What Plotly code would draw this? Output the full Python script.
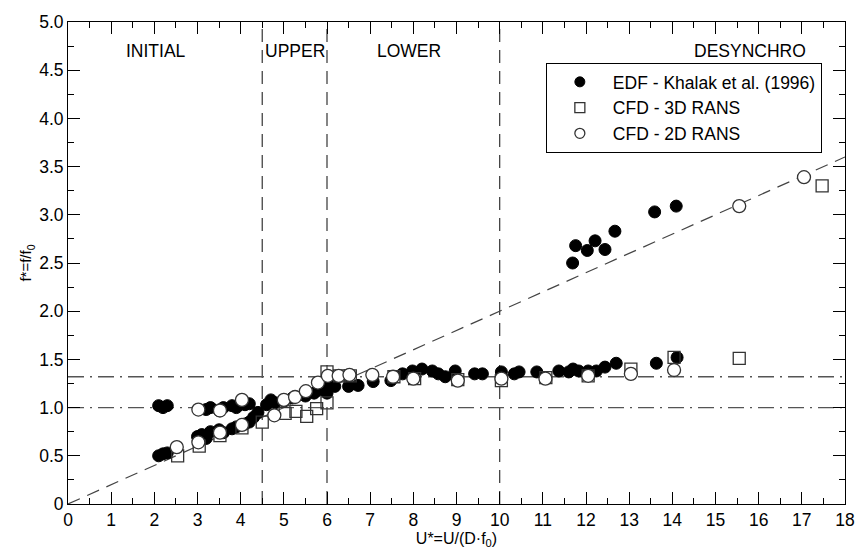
import plotly.graph_objects as go

# ---- data ----
edf_x = [2.1, 2.2, 2.3, 3.2, 3.3, 3.5, 3.6, 3.8, 3.9, 4.0, 4.1, 4.2,
         2.1, 2.2, 2.3, 3.0, 3.1, 3.2, 3.3, 3.5, 3.6, 3.8, 3.9, 4.1, 4.2, 4.3, 4.4,
         4.6, 4.7, 4.8, 5.0, 5.2, 5.5, 5.7, 5.8, 5.9, 6.0, 6.1,
         6.18, 6.5, 6.72, 7.07, 7.48, 7.75, 7.98, 8.2, 8.44, 8.58, 8.74, 8.97, 9.42, 9.6,
         10.04, 10.34, 10.45, 10.86, 11.37, 11.6, 11.7, 11.83, 12.05, 12.24, 12.44, 12.7,
         13.63, 14.11,
         11.69, 11.76, 12.03, 12.21, 12.44, 12.67, 13.59, 14.09]
edf_y = [1.02, 1.0, 1.02, 0.98, 1.0, 0.97, 1.0, 1.02, 1.0, 1.05, 1.03, 1.04,
         0.5, 0.52, 0.53, 0.7, 0.72, 0.68, 0.75, 0.77, 0.74, 0.78, 0.8, 0.83, 0.85, 0.9, 0.95,
         1.03, 1.08, 1.05, 1.07, 1.1, 1.12, 1.15, 1.18, 1.2, 1.15, 1.25,
         1.22, 1.22, 1.23, 1.27, 1.28, 1.35, 1.38, 1.4, 1.38, 1.35, 1.32, 1.38, 1.35, 1.35,
         1.37, 1.35, 1.37, 1.37, 1.38, 1.37, 1.4, 1.38, 1.38, 1.38, 1.42, 1.46,
         1.46, 1.52,
         2.5, 2.68, 2.63, 2.73, 2.64, 2.83, 3.03, 3.09]

rans3d_x = [2.54, 3.04, 3.52, 4.03, 4.5, 5.03, 5.28, 5.53, 5.76, 6.0, 6.0,
            6.29, 6.54, 7.55, 8.03, 9.03, 10.04, 11.07, 12.05, 13.04, 14.04, 15.55, 17.47]
rans3d_y = [0.5, 0.6, 0.71, 0.79, 0.85, 0.94, 0.96, 0.91, 0.99, 1.05, 1.37,
            1.33, 1.33, 1.32, 1.3, 1.29, 1.28, 1.31, 1.33, 1.4, 1.52, 1.51, 3.3]

rans2d_x = [2.52, 3.02, 3.02, 3.52, 3.52, 4.03, 4.03, 4.78, 5.0, 5.26, 5.51, 5.79,
            6.02, 6.27, 6.52, 7.05, 7.53, 8.0, 9.03, 10.04, 11.06, 12.05, 13.04, 14.04,
            15.55, 17.05]
rans2d_y = [0.59, 0.64, 0.98, 0.74, 0.97, 1.08, 0.82, 0.92, 1.08, 1.11, 1.17, 1.26,
            1.33, 1.33, 1.34, 1.34, 1.32, 1.3, 1.28, 1.3, 1.3, 1.33, 1.35, 1.39,
            3.09, 3.39]

series_names = ["EDF - Khalak et al. (1996)", "CFD - 3D RANS", "CFD - 2D RANS"]

strouhal = 0.2
region_bounds = [4.5, 6.0, 10.0]
ref_levels = [1.0, 1.32]
region_names = ["INITIAL", "UPPER", "LOWER", "DESYNCHRO"]
region_label_x = [2.05, 5.25, 7.9, 15.8]

x_ticks = list(range(0, 19))
y_ticks = [0, 0.5, 1.0, 1.5, 2.0, 2.5, 3.0, 3.5, 4.0, 4.5, 5.0]
y_ticktext = ["0", "0.5", "1.0", "1.5", "2.0", "2.5", "3.0", "3.5", "4.0", "4.5", "5.0"]

X_MAX, Y_MAX = 18, 5

styles = [
    dict(symbol="circle", color="black", line=dict(color="black", width=1)),
    dict(symbol="square-open", color="#333", line=dict(width=1.3)),
    dict(symbol="circle", color="white", line=dict(color="#333", width=1.3)),
]
sizes = [12, 12, 13]
xs = [edf_x, rans3d_x, rans2d_x]
ys = [edf_y, rans3d_y, rans2d_y]

fig = go.Figure()
for name, st, sz, xv, yv in zip(series_names, styles, sizes, xs, ys):
    fig.add_trace(go.Scatter(x=xv, y=yv, mode="markers", name=name, showlegend=False,
                             marker=dict(size=sz, **st)))
# legend entries with smaller symbols (as in the reference legend)
for name, st in zip(series_names, styles):
    fig.add_trace(go.Scatter(x=[None], y=[None], mode="markers", name=name,
                             marker=dict(size=10, **st)))

line_col = "#444"
fig.add_shape(type="line", x0=0, y0=0, x1=X_MAX, y1=strouhal * X_MAX,
              line=dict(color=line_col, width=1.2, dash="13px,8px"), layer="below")
for xb in region_bounds:
    fig.add_shape(type="line", x0=xb, x1=xb, y0=0, y1=Y_MAX,
                  line=dict(color=line_col, width=1.3, dash="13px,8px"), layer="below")
for yl in ref_levels:
    fig.add_shape(type="line", x0=0, x1=X_MAX, y0=yl, y1=yl,
                  line=dict(color="#555", width=1.3, dash="16px,6px,2px,6px"), layer="below")

for name, xl in zip(region_names, region_label_x):
    fig.add_annotation(x=xl, y=4.7, text=name, showarrow=False,
                       font=dict(size=17.5, color="black"))

font_family = "Liberation Sans, Arial, sans-serif"
fig.update_layout(
    width=867, height=553,
    margin=dict(l=68, r=12, t=15, b=45),
    plot_bgcolor="white", paper_bgcolor="white",
    font=dict(family=font_family, color="black", size=16),
    showlegend=True,
    legend=dict(x=0.615, y=0.915, xanchor="left", yanchor="top",
                bordercolor="black", borderwidth=1, bgcolor="white",
                font=dict(size=17.5), itemsizing="trace", tracegroupgap=0,
                itemwidth=56),
)
fig.update_xaxes(range=[0, X_MAX], tickvals=x_ticks, ticks="inside", ticklen=12,
                 tickwidth=1, tickcolor="black", showline=True, linecolor="black",
                 linewidth=1, mirror="allticks", showgrid=False, zeroline=False,
                 tickfont=dict(size=17.5),
                 minor=dict(dtick=0.5, ticks="inside", ticklen=6, tickcolor="black", showgrid=False),
                 title=dict(text="U*=U/(D·f<sub>0</sub>)", font=dict(size=16), standoff=0))
fig.update_yaxes(range=[0, Y_MAX], tickvals=y_ticks, ticktext=y_ticktext, ticks="inside",
                 ticklen=12, tickwidth=1, tickcolor="black", showline=True, linecolor="black",
                 linewidth=1, mirror="allticks", showgrid=False, zeroline=False,
                 tickfont=dict(size=17.5),
                 minor=dict(dtick=0.25, ticks="inside", ticklen=6, tickcolor="black", showgrid=False),
                 title=dict(text="f*=f/f<sub>0</sub>", font=dict(size=15), standoff=3))

fig.write_html("out.html")
